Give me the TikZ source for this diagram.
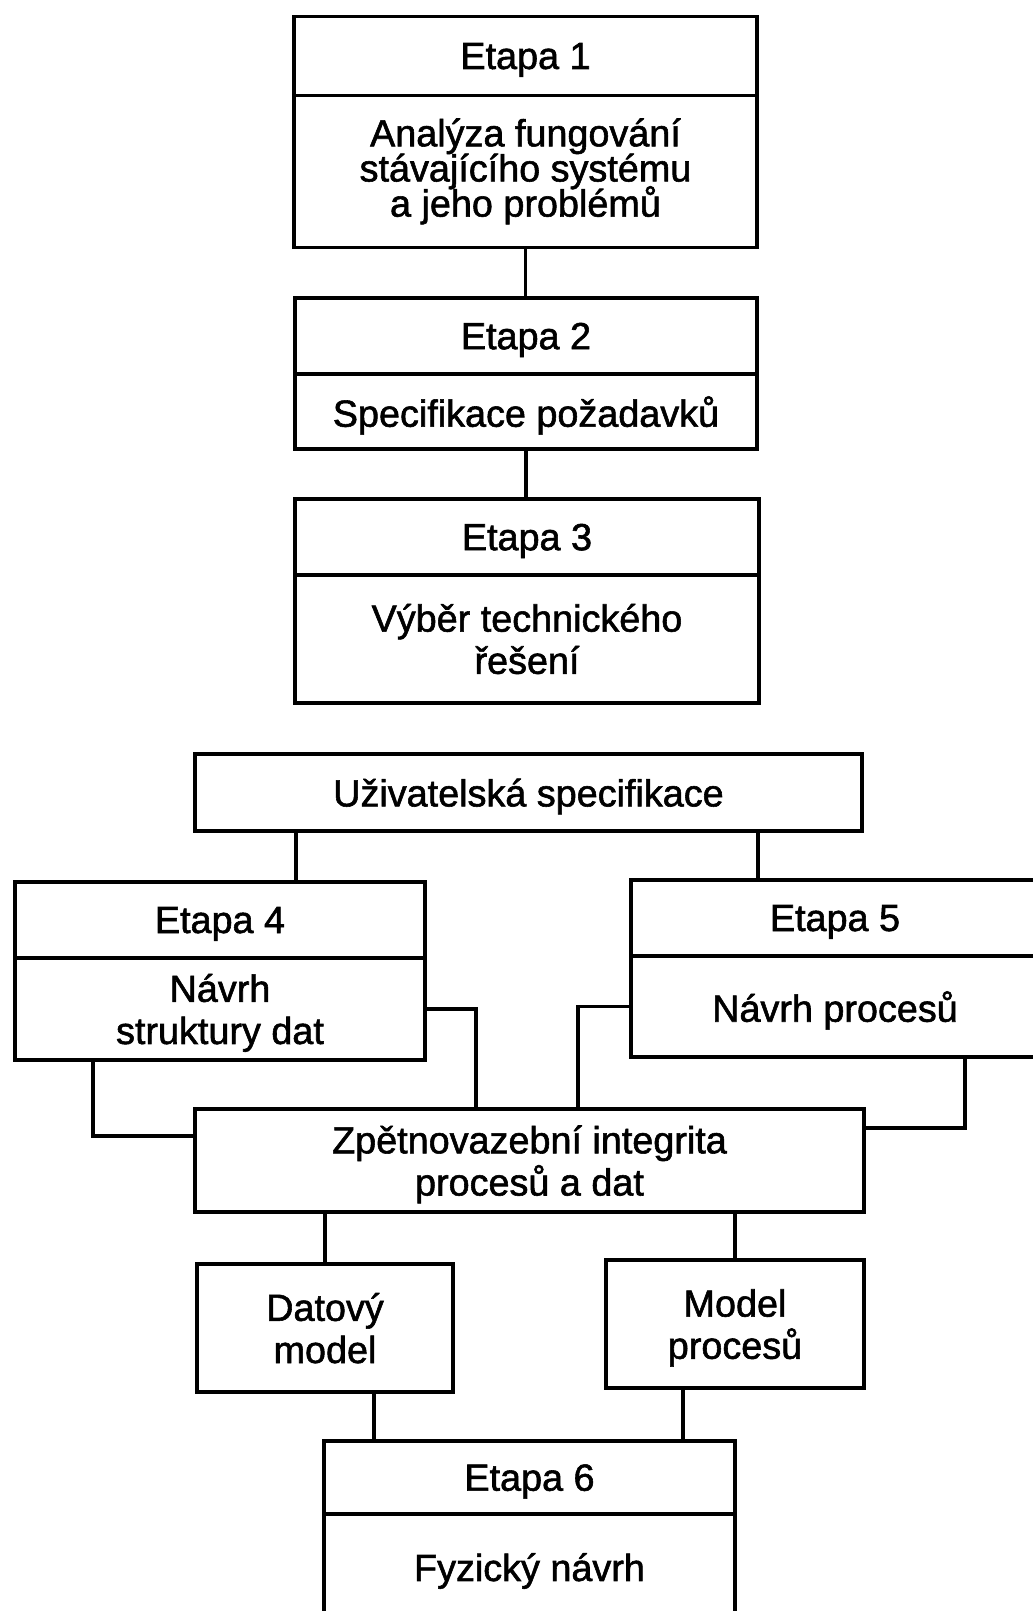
\documentclass[tikz,border=0pt]{standalone}
\usepackage{fontspec}
\setmainfont{Liberation Sans}[BoldFont={Liberation Sans}, BoldFeatures={FakeBold=1.5}]
\usetikzlibrary{positioning}
\setlength{\lineskiplimit}{-20pt}
\tikzset{
  box/.style={draw, line width=2pt, inner sep=0pt, outer sep=0pt, align=center,
    font=\fontsize{21.5}{24}\bfseries\selectfont},
  boxt/.style={box, text depth=-3pt},
  spoj/.style={line width=2pt},
}
\begin{document}
\begin{tikzpicture}[x=0.02cm,y=-0.02cm]
  \useasboundingbox (0,0) rectangle (1032,1611);

  % Etapy 1 az 3
  \node[boxt, minimum width=9.26cm, minimum height=1.58cm] (e1h) at (525.5,56) {Etapa 1};
  \node[box, minimum width=9.26cm, minimum height=3.04cm, below=0pt of e1h,
    font=\fontsize{21.5}{20}\bfseries\selectfont] (e1b) {Analýza fungování\\stávajícího systému\\a jeho problémů};
  \node[boxt, minimum width=9.24cm, minimum height=1.52cm] (e2h) at (526,336) {Etapa 2};
  \node[boxt, minimum width=9.24cm, minimum height=1.5cm, below=0pt of e2h] (e2b) {Specifikace požadavků};
  \node[boxt, minimum width=9.28cm, minimum height=1.52cm] (e3h) at (527,537) {Etapa 3};
  \node[box, minimum width=9.28cm, minimum height=2.56cm, below=0pt of e3h] (e3b) {Výběr technického\\řešení};

  \draw[spoj] (e1b.south) -- (e1b.south |- e2h.north);
  \draw[spoj] (e2b.south) -- (e2b.south |- e3h.north);

  % Uzivatelska specifikace, etapy 4 a 5
  \node[boxt, minimum width=13.34cm, minimum height=1.54cm] (us) at (528.5,792.5) {Uživatelská specifikace};
  \node[boxt, minimum width=8.2cm, minimum height=1.52cm] (e4h) at (220,920) {Etapa 4};
  \node[boxt, minimum width=8.2cm, minimum height=2.04cm, below=0pt of e4h] (e4b) {Návrh\\struktury dat};
  \node[boxt, minimum width=8.16cm, minimum height=1.52cm] (e5h) at (835,918) {Etapa 5};
  \node[boxt, minimum width=8.16cm, minimum height=2.02cm, below=0pt of e5h] (e5b) {Návrh procesů};

  \coordinate (ka) at (296,0);
  \coordinate (kb) at (758,0);
  \draw[spoj] (us.south -| ka) -- (e4h.north -| ka);
  \draw[spoj] (us.south -| kb) -- (e5h.north -| kb);

  % Zpetna vazba
  \node[boxt, minimum width=13.38cm, minimum height=2.06cm] (zv) at (529.5,1160.5) {Zpětnovazební integrita\\procesů a dat};

  \coordinate (kc) at (476,0);
  \coordinate (kd) at (578,0);
  \coordinate (ke) at (93,1136);
  \coordinate (kf) at (965,1128);
  \draw[spoj] (e4b.east) -| (zv.north -| kc);
  \draw[spoj] (e5b.west) -| (zv.north -| kd);
  \draw[spoj] (e4b.south -| ke) |- (zv.west |- ke);
  \draw[spoj] (e5b.south -| kf) |- (zv.east |- kf);

  % Modely a etapa 6
  \node[boxt, minimum width=5.12cm, minimum height=2.56cm] (dm) at (325,1328) {Datový\\model};
  \node[boxt, minimum width=5.16cm, minimum height=2.56cm] (mp) at (735,1324) {Model\\procesů};
  \node[boxt, minimum width=8.22cm, minimum height=1.46cm] (e6h) at (529.5,1477.5) {Etapa 6};
  \node[box, minimum width=8.22cm, minimum height=2.28cm, below=0pt of e6h] (e6b) {Fyzický návrh};

  \coordinate (kg) at (374,0);
  \coordinate (kh) at (683,0);
  \draw[spoj] (zv.south -| dm.north) -- (dm.north);
  \draw[spoj] (zv.south -| mp.north) -- (mp.north);
  \draw[spoj] (dm.south -| kg) -- (e6h.north -| kg);
  \draw[spoj] (mp.south -| kh) -- (e6h.north -| kh);
\end{tikzpicture}
\end{document}
